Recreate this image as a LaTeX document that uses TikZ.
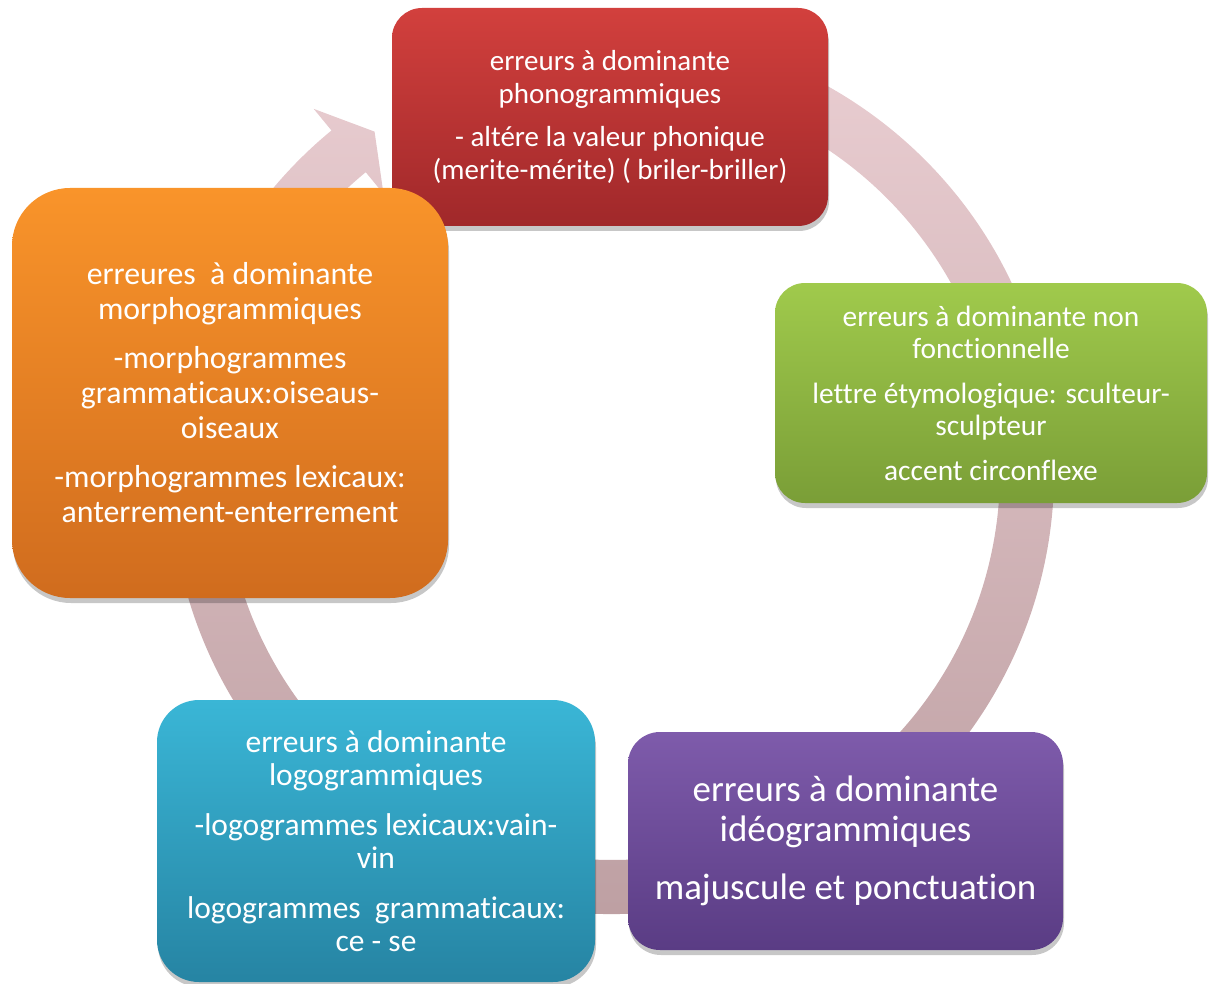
\documentclass[tikz,border=0pt]{standalone}
\usepackage{fontspec}
\setmainfont{Carlito}[Ligatures={NoCommon,NoContextual}]
\usetikzlibrary{shadows}
\definecolor{redT}{RGB}{210,64,61}
\definecolor{redB}{RGB}{160,40,42}
\definecolor{oraT}{RGB}{249,148,42}
\definecolor{oraB}{RGB}{208,108,30}
\definecolor{grnT}{RGB}{160,202,76}
\definecolor{grnB}{RGB}{122,158,55}
\definecolor{purT}{RGB}{126,91,171}
\definecolor{purB}{RGB}{90,60,132}
\definecolor{tealT}{RGB}{58,182,214}
\definecolor{tealB}{RGB}{38,132,163}
\definecolor{ringT}{RGB}{236,208,212}
\definecolor{ringB}{RGB}{188,158,161}
\tikzset{
  box/.style={draw=none, text=white, align=center, inner sep=0pt,
    drop shadow={shadow xshift=1pt, shadow yshift=-5pt, opacity=0.22, fill=black}},
}
\begin{document}
\begin{tikzpicture}[x=1pt,y=-1pt]
\useasboundingbox (0,0) rectangle (1217,984);
% background ring arrow
\begin{scope}[shift={(612,472)}]
\shade[top color=ringT, bottom color=ringB]
  (100:442pt) arc[start angle=100, end angle=-230.6, radius=442pt]
  -- (129.4:470pt) -- (124.9:415pt) -- (129.4:360pt) -- (129.4:388pt)
  arc[start angle=-230.6, end angle=100, radius=388pt] -- cycle;
\end{scope}
% boxes
\node[box, top color=redT, bottom color=redB, rounded corners=30pt,
  minimum width=436pt, minimum height=218pt,
  font=\fontsize{29}{32.5}\selectfont] (pho) at (610,117)
  {erreurs à dominante\\ phonogrammiques\\[11pt]
   - altére la valeur phonique\\ (merite-mérite) ( briler-briller)};
\node[box, top color=oraT, bottom color=oraB, rounded corners=58pt,
  minimum width=436pt, minimum height=410pt,
  font=\fontsize{31.8}{35}\selectfont] (mor) at (230,393)
  {erreures\ \ à dominante\\ morphogrammiques\\[14pt]
   -morphogrammes\\ grammaticaux:oiseaus-\\ oiseaux\\[14pt]
   -morphogrammes lexicaux:\\ anterrement-enterrement};
\node[box, top color=grnT, bottom color=grnB, rounded corners=30pt,
  minimum width=432pt, minimum height=220pt,
  font=\fontsize{29.4}{32}\selectfont] (nf) at (991,393)
  {erreurs à dominante non\\ fonctionnelle\\[13pt]
   lettre étymologique: sculteur-\\ sculpteur\\[13pt]
   accent circonflexe};
\node[box, top color=purT, bottom color=purB, rounded corners=32pt,
  minimum width=435pt, minimum height=218pt,
  font=\fontsize{36.9}{40.5}\selectfont] (ide) at (845.5,841)
  {erreurs à dominante\\ idéogrammiques\\[17.5pt]
   majuscule et ponctuation};
\node[box, top color=tealT, bottom color=tealB, rounded corners=42pt,
  minimum width=438pt, minimum height=282pt,
  font=\fontsize{31.5}{33.5}\selectfont] (log) at (376,841)
  {erreurs à dominante\\ logogrammiques\\[16pt]
   -logogrammes lexicaux:vain-\\ vin\\[16pt]
   logogrammes\ \ grammaticaux:\\ ce - se};
\end{tikzpicture}
\end{document}
